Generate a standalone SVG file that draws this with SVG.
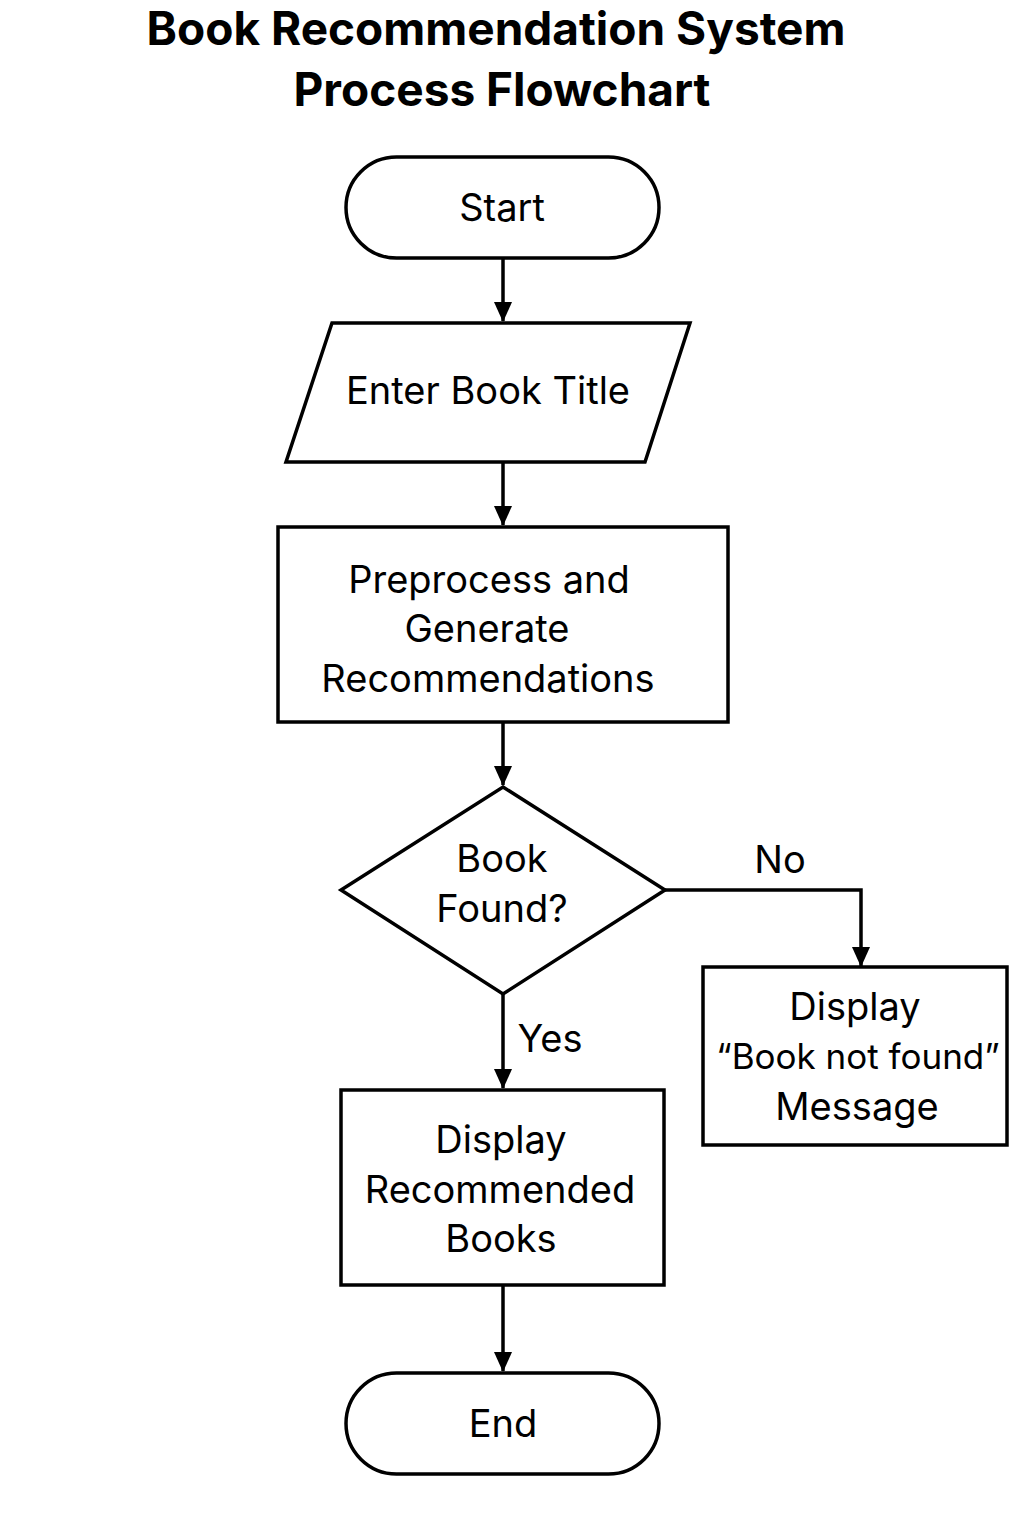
<svg xmlns="http://www.w3.org/2000/svg" width="1024" height="1536" viewBox="0 0 1024 1536">
<style>
.s{fill:#fff;stroke:#000;stroke-width:3.5;stroke-linejoin:miter}
.t{font-family:Inter,"Noto Sans","Liberation Sans",sans-serif;font-size:38px;fill:#000;text-anchor:middle}
.h{font-family:Inter,"Noto Sans","Liberation Sans",sans-serif;font-size:46px;font-weight:bold;fill:#000;text-anchor:middle}
.c{fill:none;stroke:#000;stroke-width:3.5}
</style>
<defs>
<marker id="a" markerWidth="20" markerHeight="22" refX="19" refY="9" orient="auto" markerUnits="userSpaceOnUse" viewBox="0 0 20 18">
<path d="M0,0 L20,9 L0,18 Z" fill="#000"/>
</marker>
</defs>
<rect width="1024" height="1536" fill="#fff"/>
<g id="title">
<text class="h" x="496" y="45">Book Recommendation System</text>
<text class="h" x="502" y="106">Process Flowchart</text>
</g>
<g id="connectors">
<path class="c" d="M503,258 V321" marker-end="url(#a)"/>
<path class="c" d="M503,462 V525" marker-end="url(#a)"/>
<path class="c" d="M503,722 V785" marker-end="url(#a)"/>
<path class="c" d="M665,890 H861 V966" marker-end="url(#a)"/>
<path class="c" d="M503,994 V1088" marker-end="url(#a)"/>
<path class="c" d="M503,1285 V1371" marker-end="url(#a)"/>
<text class="t" x="780" y="873">No</text>
<text class="t" x="550" y="1052">Yes</text>
</g>
<g id="start">
<rect class="s" x="346" y="157" width="313" height="101" rx="50.5"/>
<text class="t" x="502" y="221">Start</text>
</g>
<g id="input">
<polygon class="s" points="332,323 690,323 645,462 286,462"/>
<text class="t" x="488" y="404">Enter Book Title</text>
</g>
<g id="process">
<rect class="s" x="278" y="527" width="450" height="195"/>
<text class="t" x="489" y="593">Preprocess and</text>
<text class="t" x="487" y="642">Generate</text>
<text class="t" x="488" y="692">Recommendations</text>
</g>
<g id="decision">
<polygon class="s" points="503,787 665,890 503,994 341,890"/>
<text class="t" x="502" y="872">Book</text>
<text class="t" x="502" y="922">Found?</text>
</g>
<g id="notfound">
<rect class="s" x="703" y="967" width="304" height="178"/>
<text class="t" x="855" y="1020">Display</text>
<text class="t" x="858" y="1069" style="font-size:35px">“Book not found”</text>
<text class="t" x="857" y="1120">Message</text>
</g>
<g id="display">
<rect class="s" x="341" y="1090" width="323" height="195"/>
<text class="t" x="501" y="1153">Display</text>
<text class="t" x="500" y="1203">Recommended</text>
<text class="t" x="501" y="1252">Books</text>
</g>
<g id="end">
<rect class="s" x="346" y="1373" width="313" height="101" rx="50.5"/>
<text class="t" x="503" y="1437">End</text>
</g>
</svg>
